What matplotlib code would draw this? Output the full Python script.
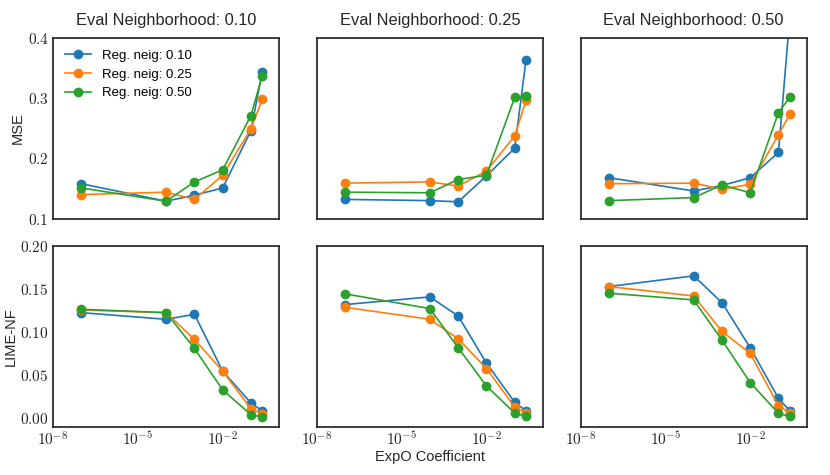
import matplotlib
matplotlib.use("Agg")
import matplotlib.pyplot as plt
from matplotlib.ticker import FixedLocator, FuncFormatter, NullLocator
import numpy as np

plt.rcParams['font.family'] = ['Liberation Sans', 'DejaVu Sans']
plt.rcParams['mathtext.fontset'] = 'cm'

coefs = [1e-7, 1e-4, 1e-3, 1e-2, 1e-1, 0.25]
eval_neigh = ["0.10", "0.25", "0.50"]
reg_neigh = ["0.10", "0.25", "0.50"]

# MSE[eval][reg]
mse_eval_010 = [
    [0.158, 0.129, 0.139, 0.151, 0.246, 0.344],
    [0.140, 0.144, 0.132, 0.172, 0.249, 0.298],
    [0.151, 0.129, 0.161, 0.181, 0.271, 0.337],
]
mse_eval_025 = [
    [0.132, 0.130, 0.128, 0.171, 0.217, 0.363],
    [0.159, 0.161, 0.154, 0.179, 0.237, 0.296],
    [0.144, 0.143, 0.165, 0.172, 0.301, 0.304],
]
mse_eval_050 = [
    [0.168, 0.146, 0.155, 0.168, 0.210, 0.434],
    [0.158, 0.159, 0.149, 0.157, 0.239, 0.273],
    [0.130, 0.135, 0.156, 0.143, 0.276, 0.301],
]
lime_eval_010 = [
    [0.1223, 0.1146, 0.1204, 0.0544, 0.0175, 0.0085],
    [0.1254, 0.1223, 0.0913, 0.0544, 0.0109, 0.0047],
    [0.1262, 0.1223, 0.0808, 0.0326, 0.0039, 0.0012],
]
lime_eval_025 = [
    [0.1317, 0.1406, 0.1184, 0.0637, 0.0183, 0.0085],
    [0.1285, 0.1146, 0.0920, 0.0575, 0.0128, 0.0058],
    [0.1441, 0.1270, 0.0816, 0.0373, 0.0058, 0.0019],
]
lime_eval_050 = [
    [0.1526, 0.1650, 0.1340, 0.0816, 0.0229, 0.0085],
    [0.1526, 0.1417, 0.1006, 0.0750, 0.0144, 0.0058],
    [0.1449, 0.1371, 0.0905, 0.0412, 0.0054, 0.0019],
]
mse_all = [mse_eval_010, mse_eval_025, mse_eval_050]
lime_all = [lime_eval_010, lime_eval_025, lime_eval_050]

colors = ['#1f77b4', '#ff7f0e', '#2ca02c']
edge = '#262626'

fig, axes = plt.subplots(2, 3, figsize=(8.3, 4.75), dpi=100)
fig.subplots_adjust(left=0.0639, right=0.972, top=0.9206, bottom=0.1017,
                    wspace=0.166, hspace=0.149)

def math_fmt(fmt):
    return FuncFormatter(lambda v, p: "$" + (fmt % v) + "$")

def log_fmt(v, p):
    e = int(round(np.log10(v)))
    return r"$10^{%d}$" % e

for j in range(3):
    for i, data in enumerate([mse_all[j], lime_all[j]]):
        ax = axes[i, j]
        for k in range(3):
            ax.plot(coefs, data[k], marker='o', color=colors[k], lw=1.2, ms=6,
                    label="Reg. neig: " + reg_neigh[k])
        ax.set_xscale('log')
        ax.set_xlim(1e-8, 1.0)
        ax.xaxis.set_major_locator(FixedLocator([1e-8, 1e-5, 1e-2]))
        ax.xaxis.set_minor_locator(NullLocator())
        for s in ax.spines.values():
            s.set_color(edge)
            s.set_linewidth(1.25)
        ax.tick_params(length=0, labelsize=11, colors=edge, pad=3)
        if i == 0:
            ax.set_ylim(0.1, 0.4)
            ax.yaxis.set_major_locator(FixedLocator([0.1, 0.2, 0.3, 0.4]))
            ax.yaxis.set_major_formatter(math_fmt("%.1f"))
            ax.set_xticklabels([])
            ax.set_title("Eval Neighborhood: " + eval_neigh[j], fontsize=11.8, pad=9, color=edge)
        else:
            ax.set_ylim(-0.01, 0.2)
            ax.yaxis.set_major_locator(FixedLocator([0.0, 0.05, 0.10, 0.15, 0.20]))
            ax.yaxis.set_major_formatter(math_fmt("%.2f"))
            ax.xaxis.set_major_formatter(FuncFormatter(log_fmt))
        if j > 0:
            ax.set_yticklabels([])

axes[0, 0].set_ylabel("MSE", fontsize=10.5, color=edge, labelpad=2)
axes[1, 0].set_ylabel("LIME-NF", fontsize=10.5, color=edge, labelpad=1.5)
axes[1, 1].set_xlabel("ExpO Coefficient", fontsize=10.5, color=edge, labelpad=1)
axes[0, 0].legend(loc='upper left', frameon=False, fontsize=9.5, borderaxespad=0.5)

fig.savefig("out.png", dpi=100)
